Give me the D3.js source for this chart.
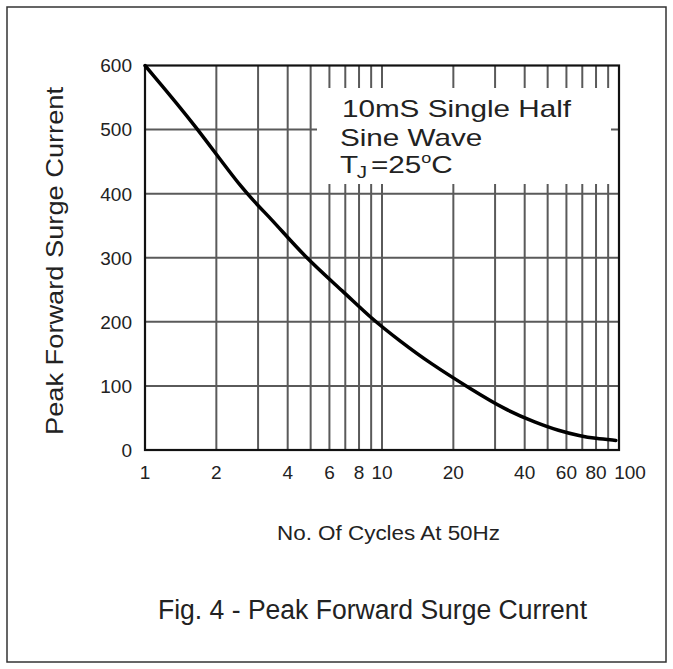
<!DOCTYPE html>
<html>
<head>
<meta charset="utf-8">
<script src="https://cdn.jsdelivr.net/npm/d3@7"></script>
<style>
  body { margin: 0; background: #fff; }
  svg { display: block; }
</style>
</head>
<body>
<div id="chart"></div>
<script>
// points (cycles on log axis, amps)
const cycles = [1, 1.64, 2.59, 3.4, 4.66, 6.98, 8.9, 11.9, 16, 23.5, 33.4, 44.5, 55.7, 68.5, 79.2, 97];
const current = [600, 506, 404, 362, 303, 245, 207, 170, 135, 96, 62, 43, 30, 22, 18, 15];

const xGrid = [2, 3, 4, 5, 6, 7, 8, 9, 10, 20, 30, 40, 50, 60, 70, 80, 90];
const xTickLabels = [1, 2, 4, 6, 8, 10, 20, 40, 60, 80, 100];
const yTicks = [0, 100, 200, 300, 400, 500, 600];

const width = 673, height = 669;
const font = "'Liberation Sans', Arial, sans-serif";

const x = d3.scaleLog().domain([1, 100]).range([145, 619]);
const y = d3.scaleLinear().domain([0, 600]).range([450, 65.5]);

const svg = d3.create("svg")
    .attr("width", width)
    .attr("height", height)
    .style("font-family", font);

// outer frame
svg.append("rect")
    .attr("x", 7).attr("y", 7)
    .attr("width", 659).attr("height", 655)
    .attr("fill", "none")
    .attr("stroke", "#333")
    .attr("stroke-width", 1.5);

const grid = svg.append("g")
    .attr("stroke", "#5a5a5a")
    .attr("stroke-width", 2);

grid.selectAll("line.v")
    .data(xGrid)
    .join("line")
    .attr("class", "v")
    .attr("x1", d => x(d)).attr("x2", d => x(d))
    .attr("y1", y(600)).attr("y2", y(0));

grid.selectAll("line.h")
    .data(yTicks.slice(1, -1))
    .join("line")
    .attr("class", "h")
    .attr("x1", x(1)).attr("x2", x(100))
    .attr("y1", d => y(d)).attr("y2", d => y(d));

// white note box covering part of the grid
const box = { x0: 317, x1: 611, y0: 88, y1: 184 };
svg.append("rect")
    .attr("x", box.x0).attr("y", box.y0)
    .attr("width", box.x1 - box.x0).attr("height", box.y1 - box.y0)
    .attr("fill", "#fff");

// plot border
svg.append("rect")
    .attr("x", x(1)).attr("y", y(600))
    .attr("width", x(100) - x(1)).attr("height", y(0) - y(600))
    .attr("fill", "none")
    .attr("stroke", "#111")
    .attr("stroke-width", 2.2);

// curve
const line = d3.line()
    .x(d => x(d[0]))
    .y(d => y(d[1]))
    .curve(d3.curveBasis);

svg.append("path")
    .datum(d3.zip(cycles, current))
    .attr("fill", "none")
    .attr("stroke", "#000")
    .attr("stroke-width", 3.5)
    .attr("stroke-linecap", "round")
    .attr("d", line);

// y tick labels
svg.append("g")
    .selectAll("text")
    .data(yTicks)
    .join("text")
    .attr("x", 132)
    .attr("y", d => y(d))
    .attr("dy", "0.36em")
    .attr("text-anchor", "end")
    .attr("font-size", 19)
    .attr("fill", "#222")
    .text(d => d);

// x tick labels
svg.append("g")
    .selectAll("text")
    .data(xTickLabels)
    .join("text")
    .attr("x", d => x(d) + (d === 100 ? 11 : 0))
    .attr("y", 479)
    .attr("text-anchor", "middle")
    .attr("font-size", 19)
    .attr("fill", "#222")
    .text(d => d);

// axis titles
svg.append("text")
    .attr("transform", "translate(63,261) rotate(-90)")
    .attr("text-anchor", "middle")
    .attr("font-size", 24)
    .attr("textLength", 348)
    .attr("lengthAdjust", "spacingAndGlyphs")
    .attr("fill", "#222")
    .text("Peak Forward Surge Current");

svg.append("text")
    .attr("x", 388.5).attr("y", 540)
    .attr("text-anchor", "middle")
    .attr("font-size", 20)
    .attr("textLength", 223)
    .attr("lengthAdjust", "spacingAndGlyphs")
    .attr("fill", "#222")
    .text("No. Of Cycles At 50Hz");

svg.append("text")
    .attr("x", 372.5).attr("y", 619)
    .attr("text-anchor", "middle")
    .attr("font-size", 27)
    .attr("textLength", 429)
    .attr("lengthAdjust", "spacingAndGlyphs")
    .attr("fill", "#222")
    .text("Fig. 4 - Peak Forward Surge Current");

// note text (the scan's lettering is wide, so stretch it)
const note = svg.append("g")
    .attr("transform", "translate(340,0) scale(1.29,1)")
    .attr("font-size", 23)
    .attr("fill", "#222");

note.append("text").attr("x", 1.5).attr("y", 117).text("10mS Single Half");
note.append("text").attr("y", 146).text("Sine Wave");

const tj = note.append("text").attr("y", 173);
tj.append("tspan").text("T");
tj.append("tspan").attr("font-size", 16).attr("dy", 5).attr("dx", -1).text("J");
tj.append("tspan").attr("dy", -5).attr("dx", 3).text("=25");
tj.append("tspan").attr("font-size", 14).attr("dy", -10).text("o");
tj.append("tspan").attr("dy", 10).text("C");

document.getElementById("chart").appendChild(svg.node());
</script>
</body>
</html>
